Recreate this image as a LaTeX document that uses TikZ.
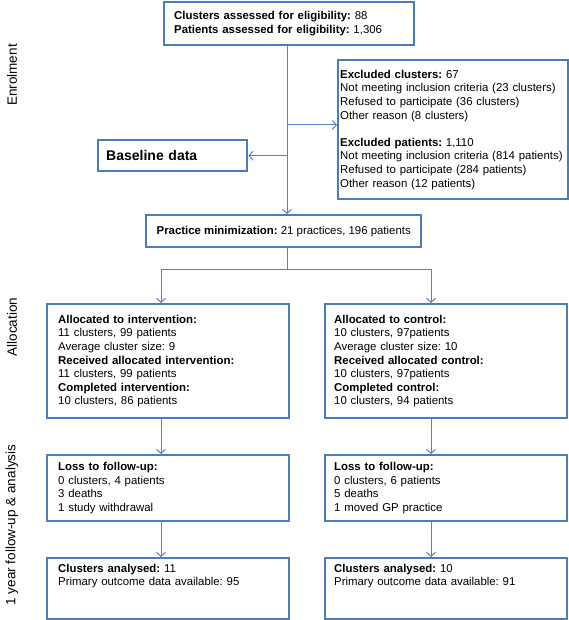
\documentclass[tikz,border=0pt]{standalone}
\usepackage{fontspec}
\setmainfont{Liberation Sans}
\usepackage{tikz}
\usetikzlibrary{arrows.meta,calc}
\definecolor{colorbox}{HTML}{4A7EBB}
\definecolor{colorline}{HTML}{5582C0}
\frenchspacing
\tikzset{
  flowbox/.style={draw=colorbox, line width=2.4pt, fill=white, align=left, anchor=north west, inner ysep=0pt, font=\fontsize{11.4}{13.6}\selectfont},
  phase/.style={rotate=90, font=\fontsize{13.5}{16}\selectfont}
}
\tikzset{
  edgeflow/.style={colorline, line width=1pt, -{Straight Barb[length=4pt,width=9pt]}},
  edgeplain/.style={colorline, line width=1pt}
}
\begin{document}
\begin{tikzpicture}[x=1pt, y=-1pt]
\useasboundingbox (0,0) rectangle (568,620);
% phases
\node[phase] (penrol) at (12,75) {Enrolment};
\node[phase] (palloc) at (12,327) {Allocation};
\node[phase] (pfollow) at (12,525) {1 year follow-up \& analysis};
% enrolment
\node[flowbox, text width=230pt, inner xsep=10pt, minimum height=43pt] (elig) at (163,1)
  {\textbf{Clusters assessed for eligibility:} 88\\\textbf{Patients assessed for eligibility:} 1,306};
\node[flowbox, text width=226pt, inner xsep=2pt, minimum height=139pt] (excl) at (337,59)
  {\textbf{Excluded clusters:} 67\\Not meeting inclusion criteria (23 clusters)\\Refused to participate (36 clusters)\\Other reason (8 clusters)\\[13.6pt]
   \textbf{Excluded patients:} 1,110\\Not meeting inclusion criteria (814 patients)\\Refused to participate (284 patients)\\Other reason (12 patients)};
\node[flowbox, text width=133pt, inner xsep=8pt, minimum height=31pt, font=\fontsize{14}{16}\selectfont\bfseries] (base) at (97,139) {Baseline data};
\node[flowbox, inner xsep=8pt, minimum width=275pt, minimum height=32pt] (prac) at (145,214)
  {\textbf{Practice minimization:} 21 practices, 196 patients};
% allocation
\node[flowbox, text width=220pt, inner xsep=11pt, minimum height=114pt] (intv) at (46,303)
  {\textbf{Allocated to intervention:}\\11 clusters, 99 patients\\Average cluster size: 9\\\textbf{Received allocated intervention:}\\11 clusters, 99 patients\\\textbf{Completed intervention:}\\10 clusters, 86 patients};
\node[flowbox, text width=224pt, inner xsep=9pt, minimum height=114pt] (ctrl) at (324,303)
  {\textbf{Allocated to control:}\\10 clusters, 97patients\\Average cluster size: 10\\\textbf{Received allocated control:}\\10 clusters, 97patients\\\textbf{Completed control:}\\10 clusters, 94 patients};
% follow-up
\node[flowbox, text width=220pt, inner xsep=11pt, minimum height=66pt] (lossi) at (46,454)
  {\textbf{Loss to follow-up:}\\0 clusters, 4 patients\\3 deaths\\1 study withdrawal};
\node[flowbox, text width=224pt, inner xsep=9pt, minimum height=66pt] (lossc) at (324,454)
  {\textbf{Loss to follow-up:}\\0 clusters, 6 patients\\5 deaths\\1 moved GP practice};
\node[flowbox, text width=220pt, inner xsep=11pt, inner ysep=5.7pt, text depth=41.3pt] (anai) at (46,557)
  {\textbf{Clusters analysed:} 11\\Primary outcome data available: 95};
\node[flowbox, text width=224pt, inner xsep=9pt, inner ysep=5.7pt, text depth=41.3pt] (anac) at (324,557)
  {\textbf{Clusters analysed:} 10\\Primary outcome data available: 91};
% connectors
\coordinate (jexcl) at (287,125);
\coordinate (split) at (287,269);
\coordinate (lcol) at (161,0);
\coordinate (rcol) at (431,0);
\draw[edgeflow] (elig.south -| split) -- (prac.north -| split);
\draw[edgeflow] (jexcl) -- (jexcl -| excl.west);
\draw[edgeflow] (base.east -| split) -- (base.east);
\draw[edgeplain] (prac.south -| split) -- (split);
\draw[edgeplain] (lcol |- split) -- (rcol |- split);
\draw[edgeflow] (lcol |- split) -- (lcol |- intv.north);
\draw[edgeflow] (rcol |- split) -- (rcol |- ctrl.north);
\draw[edgeflow] (lcol |- intv.south) -- (lcol |- lossi.north);
\draw[edgeflow] (rcol |- ctrl.south) -- (rcol |- lossc.north);
\draw[edgeflow] (lcol |- lossi.south) -- (lcol |- anai.north);
\draw[edgeflow] (rcol |- lossc.south) -- (rcol |- anac.north);
\end{tikzpicture}
\end{document}
